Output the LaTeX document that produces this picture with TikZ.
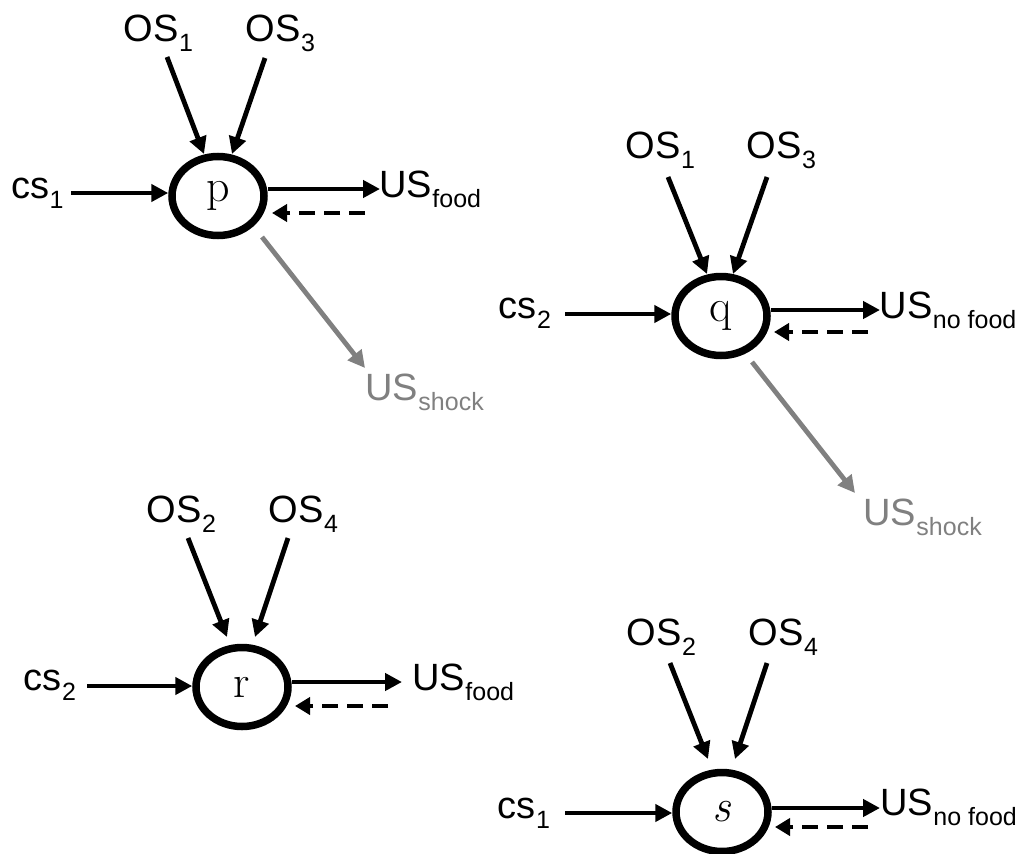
\documentclass[tikz,border=0pt]{standalone}
\usepackage{fontspec}
\setmainfont{Liberation Sans}
\newfontfamily\mainlab[Scale=3.8]{Liberation Sans}
\newfontfamily\sublab[Scale=2.5]{Liberation Sans}
\newfontfamily\nodelet[Scale=4.6]{Latin Modern Roman}
\usetikzlibrary{shapes.geometric,arrows.meta,calc}
\definecolor{shockgray}{RGB}{128,128,128}
\newcommand\sublbl[2]{#1\kern0.5pt\raisebox{-10.5pt}{\sublab #2}}
\begin{document}
\begin{tikzpicture}[x=1pt,y=-1pt,
  st/.style={ellipse,draw,line width=7.5pt,minimum width=92pt,minimum height=79pt,inner sep=0pt,font=\fontsize{10}{12}\selectfont\nodelet},
  lab/.style={inner sep=0pt,anchor=base west,font=\fontsize{10}{12}\selectfont\mainlab},
  glab/.style={lab,text=shockgray},
  arr/.style={line width=4.8pt,-{Triangle[length=17pt,width=17pt]}},
  darr/.style={line width=4.8pt,dash pattern=on 16pt off 9pt,-{Triangle[length=15pt,width=17pt]}},
  garr/.style={arr,draw=shockgray}]
\useasboundingbox (0,0) rectangle (1023,854);

% ---------- p ----------
\node[st] (p) at (218,196) {p};
\node[lab] (os1p) at (123.5,41) {\sublbl{OS}{1}};
\node[lab] (os3p) at (245.5,41) {\sublbl{OS}{3}};
\node[lab] (csp) at (11,198) {\sublbl{cs}{1}};
\node[lab] (usfp) at (379,197) {\sublbl{US}{food}};
\node[glab] (usshp) at (365,400) {\sublbl{US}{shock}};
\draw[arr] ($(os1p.base west)+(43.5,16)$) -- ($(p)+(-14,-42)$);
\draw[arr] ($(os3p.base west)+(19.5,17)$) -- ($(p)+(14,-42)$);
\draw[arr] ($(csp.base west)+(60,-5)$) -- ($(p.west)+(0,-3)$);
\draw[arr] ($(p.east)+(0,-7)$) -- ($(usfp.base west)+(1,-8)$);
\draw[darr] ($(usfp.base west)+(-14,16)$) -- ($(p)+(54,17)$);
\draw[garr] ($(p)+(44,41)$) -- ($(usshp.base west)+(0,-32)$);

% ---------- q ----------
\node[st] (q) at (721,316) {q};
\node[lab] (os1q) at (625.5,158) {\sublbl{OS}{1}};
\node[lab] (os3q) at (746.5,158) {\sublbl{OS}{3}};
\node[lab] (csq) at (498.5,318) {\sublbl{cs}{2}};
\node[lab] (usnq) at (879.5,318) {\sublbl{US}{no food}};
\node[glab] (usshq) at (863,525) {\sublbl{US}{shock}};
\draw[arr] ($(os1q.base west)+(42.5,19)$) -- ($(q)+(-14,-42)$);
\draw[arr] ($(os3q.base west)+(20.5,19)$) -- ($(q)+(12,-42)$);
\draw[arr] ($(csq.base west)+(66.5,-4)$) -- ($(q.west)+(0,-2)$);
\draw[arr] ($(q.east)+(0,-6)$) -- ($(usnq.base west)+(0.5,-8)$);
\draw[darr] ($(usnq.base west)+(-11.5,14)$) -- ($(q)+(53,16)$);
\draw[garr] ($(q)+(31,46)$) -- ($(usshq.base west)+(-8,-32)$);

% ---------- r ----------
\node[st] (r) at (242,687) {r};
\node[lab] (os2r) at (146.5,522) {\sublbl{OS}{2}};
\node[lab] (os4r) at (268.5,522) {\sublbl{OS}{4}};
\node[lab] (csr) at (23.5,690) {\sublbl{cs}{2}};
\node[lab] (usfr) at (412,690) {\sublbl{US}{food}};
\draw[arr] ($(os2r.base west)+(41.5,16)$) -- ($(r)+(-15,-50)$);
\draw[arr] ($(os4r.base west)+(19.5,16)$) -- ($(r)+(13,-50)$);
\draw[arr] ($(csr.base west)+(63.5,-4)$) -- ($(r.west)+(0,-1)$);
\draw[arr] ($(r.east)+(0,-5)$) -- ($(usfr.base west)+(-10,-8)$);
\draw[darr] ($(usfr.base west)+(-24,16)$) -- ($(r)+(53,19)$);

% ---------- s ----------
\node[st] (s) at (722,812) {\itshape s};
\node[lab] (os2s) at (626.5,645) {\sublbl{OS}{2}};
\node[lab] (os4s) at (748.5,645) {\sublbl{OS}{4}};
\node[lab] (css) at (497.5,818) {\sublbl{cs}{1}};
\node[lab] (usns) at (880,815) {\sublbl{US}{no food}};
\draw[arr] ($(os2s.base west)+(43.5,18)$) -- ($(s)+(-14,-53)$);
\draw[arr] ($(os4s.base west)+(18.5,18)$) -- ($(s)+(13,-53)$);
\draw[arr] ($(css.base west)+(67.5,-5)$) -- ($(s.west)+(0,1)$);
\draw[arr] ($(s.east)+(0,-4)$) -- ($(usns.base west)+(0,-7)$);
\draw[darr] ($(usns.base west)+(-12,12)$) -- ($(s)+(53,15)$);
\end{tikzpicture}
\end{document}
